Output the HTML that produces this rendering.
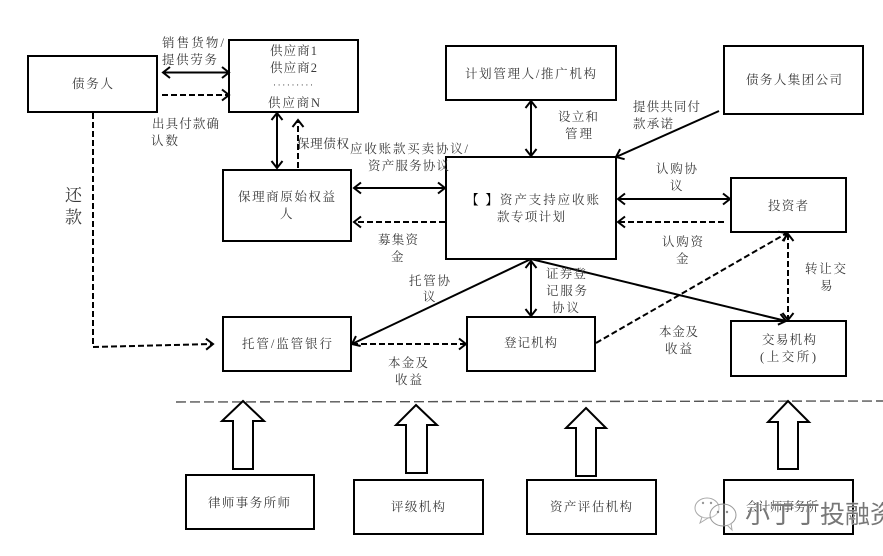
<!DOCTYPE html>
<html lang="zh">
<head>
<meta charset="utf-8">
<style>
html,body{margin:0;padding:0;background:#fff;width:883px;height:556px;overflow:hidden}
svg{display:block;filter:blur(.35px)}
text{font-family:"Liberation Serif","Noto Serif CJK SC",serif;font-size:12.5px;fill:#3a3a3a}
.b{fill:#fff;stroke:#000;stroke-width:2}
.l{fill:none;stroke:#000;stroke-width:2}
.d{fill:none;stroke:#000;stroke-width:2;stroke-dasharray:6 3}
.h{fill:#fff;stroke:#000;stroke-width:2}
</style>
</head>
<body>
<svg width="883" height="556" viewBox="0 0 883 556" xmlns="http://www.w3.org/2000/svg">
<defs>
<marker id="a" markerUnits="userSpaceOnUse" markerWidth="16" markerHeight="16" refX="10" refY="8" orient="auto-start-reverse">
<path d="M3 2.5 L10 8 L3 13.5" fill="none" stroke="#000" stroke-width="2"/>
</marker>
</defs>
<rect width="883" height="556" fill="#fff"/>

<!-- boxes -->
<rect class="b" x="28" y="56" width="129" height="56"/>
<rect class="b" x="229" y="40" width="129" height="72"/>
<rect class="b" x="223" y="170" width="128" height="71"/>
<rect class="b" x="446" y="46" width="170" height="54"/>
<rect class="b" x="724" y="46" width="139" height="68"/>
<rect class="b" x="446" y="157" width="170" height="102"/>
<rect class="b" x="731" y="178" width="115" height="54"/>
<rect class="b" x="467" y="317" width="128" height="54"/>
<rect class="b" x="731" y="321" width="115" height="55"/>
<rect class="b" x="223" y="317" width="128" height="54"/>
<rect class="b" x="186" y="475" width="128" height="54"/>
<rect class="b" x="354" y="480" width="129" height="54"/>
<rect class="b" x="527" y="480" width="129" height="54"/>
<rect class="b" x="724" y="480" width="129" height="54"/>

<!-- separator -->
<line x1="176" y1="402" x2="883" y2="401" stroke="#555" stroke-width="1.4" stroke-dasharray="10 4"/>

<!-- hollow arrows -->
<path class="h" d="M243 401 L264 421 H253 V469 H233 V421 H222 Z"/>
<path class="h" d="M416 405 L437 425 H427 V473 H406 V425 H396 Z"/>
<path class="h" d="M586 408 L606 428 H596 V476 H576 V428 H566 Z"/>
<path class="h" d="M788 401 L809 422 H798 V469 H778 V422 H768 Z"/>

<!-- connectors -->
<line class="l" x1="163" y1="72.5" x2="229" y2="72.5" marker-start="url(#a)" marker-end="url(#a)"/>
<line class="d" x1="162" y1="95" x2="229" y2="95" marker-end="url(#a)"/>
<line class="l" x1="277" y1="113" x2="277" y2="168" marker-start="url(#a)" marker-end="url(#a)"/>
<line class="d" x1="298" y1="168" x2="298" y2="120" marker-end="url(#a)"/>
<line class="l" x1="354" y1="188" x2="445" y2="188" marker-start="url(#a)" marker-end="url(#a)"/>
<line class="d" x1="445" y1="222" x2="354" y2="222" marker-end="url(#a)"/>
<line class="l" x1="531" y1="101" x2="531" y2="156" marker-start="url(#a)" marker-end="url(#a)"/>
<line class="l" x1="719" y1="111" x2="616" y2="157" marker-end="url(#a)"/>
<line class="l" x1="618" y1="199" x2="730" y2="199" marker-start="url(#a)" marker-end="url(#a)"/>
<line class="d" x1="724" y1="222" x2="618" y2="222" marker-end="url(#a)"/>
<line class="l" x1="531" y1="259" x2="352" y2="344" marker-end="url(#a)"/>
<line class="l" x1="531" y1="261" x2="531" y2="316" marker-start="url(#a)" marker-end="url(#a)"/>
<line class="l" x1="531" y1="259" x2="786" y2="321" marker-end="url(#a)"/>
<line class="d" x1="596" y1="343" x2="787" y2="233" marker-end="url(#a)"/>
<line class="d" x1="788" y1="234" x2="788" y2="320" marker-start="url(#a)" marker-end="url(#a)"/>
<path class="d" d="M93 113 V347 L213 344" marker-end="url(#a)"/>
<line class="d" x1="352" y1="344" x2="466" y2="344" marker-end="url(#a)"/>

<!-- labels -->
<text x="162" y="47" textLength="62">销售货物/</text>
<text x="162" y="64" textLength="55">提供劳务</text>
<text x="270" y="55" textLength="47">供应商1</text>
<text x="270" y="72" textLength="47">供应商2</text>
<text x="273" y="88" textLength="40" style="font-size:9px">·········</text>
<text x="268" y="107" textLength="52">供应商N</text>
<text x="72" y="88" textLength="41">债务人</text>
<text x="152" y="128" textLength="67">出具付款确</text>
<text x="151" y="145" textLength="27">认数</text>
<text x="65" y="201" textLength="17" style="font-size:17px">还</text>
<text x="65" y="223" textLength="17" style="font-size:17px">款</text>
<text x="297" y="148" textLength="52">保理债权</text>
<text x="350" y="153" textLength="118">应收账款买卖协议/</text>
<text x="368" y="170" textLength="81">资产服务协议</text>
<text x="238" y="201" textLength="97">保理商原始权益</text>
<text x="280" y="218">人</text>
<text x="378" y="244" textLength="40">募集资</text>
<text x="391" y="261">金</text>
<text x="465" y="78" textLength="131">计划管理人/推广机构</text>
<text x="746" y="84" textLength="96">债务人集团公司</text>
<text x="558" y="121" textLength="40">设立和</text>
<text x="565" y="138" textLength="27">管理</text>
<text x="633" y="111" textLength="67">提供共同付</text>
<text x="633" y="128" textLength="40">款承诺</text>
<text x="656" y="173" textLength="41">认购协</text>
<text x="670" y="190">议</text>
<text x="466" y="204" textLength="133"><tspan style="font-weight:bold;fill:#000">【&#160;】</tspan>资产支持应收账</text>
<text x="497" y="221" textLength="68">款专项计划</text>
<text x="768" y="210" textLength="40">投资者</text>
<text x="662" y="246" textLength="41">认购资</text>
<text x="676" y="263">金</text>
<text x="805" y="273" textLength="41">转让交</text>
<text x="820" y="290">易</text>
<text x="409" y="285" textLength="41">托管协</text>
<text x="423" y="301">议</text>
<text x="546" y="278" textLength="40">证券登</text>
<text x="546" y="295" textLength="41">记服务</text>
<text x="552" y="312" textLength="27">协议</text>
<text x="242" y="348" textLength="90">托管/监管银行</text>
<text x="504" y="347" textLength="53">登记机构</text>
<text x="659" y="336" textLength="39">本金及</text>
<text x="665" y="353" textLength="27">收益</text>
<text x="762" y="344" textLength="54">交易机构</text>
<text x="760" y="361" textLength="56">(上交所)</text>
<text x="388" y="367" textLength="40">本金及</text>
<text x="395" y="384" textLength="27">收益</text>
<text x="208" y="507" textLength="82">律师事务所师</text>
<text x="391" y="511" textLength="54">评级机构</text>
<text x="550" y="511" textLength="82">资产评估机构</text>
<text x="746" y="511" textLength="72">会计师事务所</text>

<!-- watermark -->
<g fill="#fff" fill-opacity=".35" stroke="#aaa" stroke-width="1">
<ellipse cx="707" cy="508" rx="12" ry="10"/>
<path d="M702 517 L700 523 L708 518" />
<ellipse cx="723" cy="515" rx="13" ry="11" stroke="#999"/>
<path d="M727 525 L732 530 L731 523"/>
</g>
<circle cx="703" cy="503" r="1.2" fill="#999"/>
<circle cx="711" cy="503" r="1.2" fill="#999"/>
<circle cx="718" cy="512" r="1.2" fill="#888"/>
<circle cx="727" cy="512" r="1.2" fill="#888"/>
<text x="745" y="523" style="font-family:'Liberation Sans','Noto Sans CJK SC',sans-serif;font-size:25px;fill:#777;stroke:#fff;stroke-width:.6;paint-order:stroke" textLength="150">小丁丁投融资</text>
</svg>
</body>
</html>
